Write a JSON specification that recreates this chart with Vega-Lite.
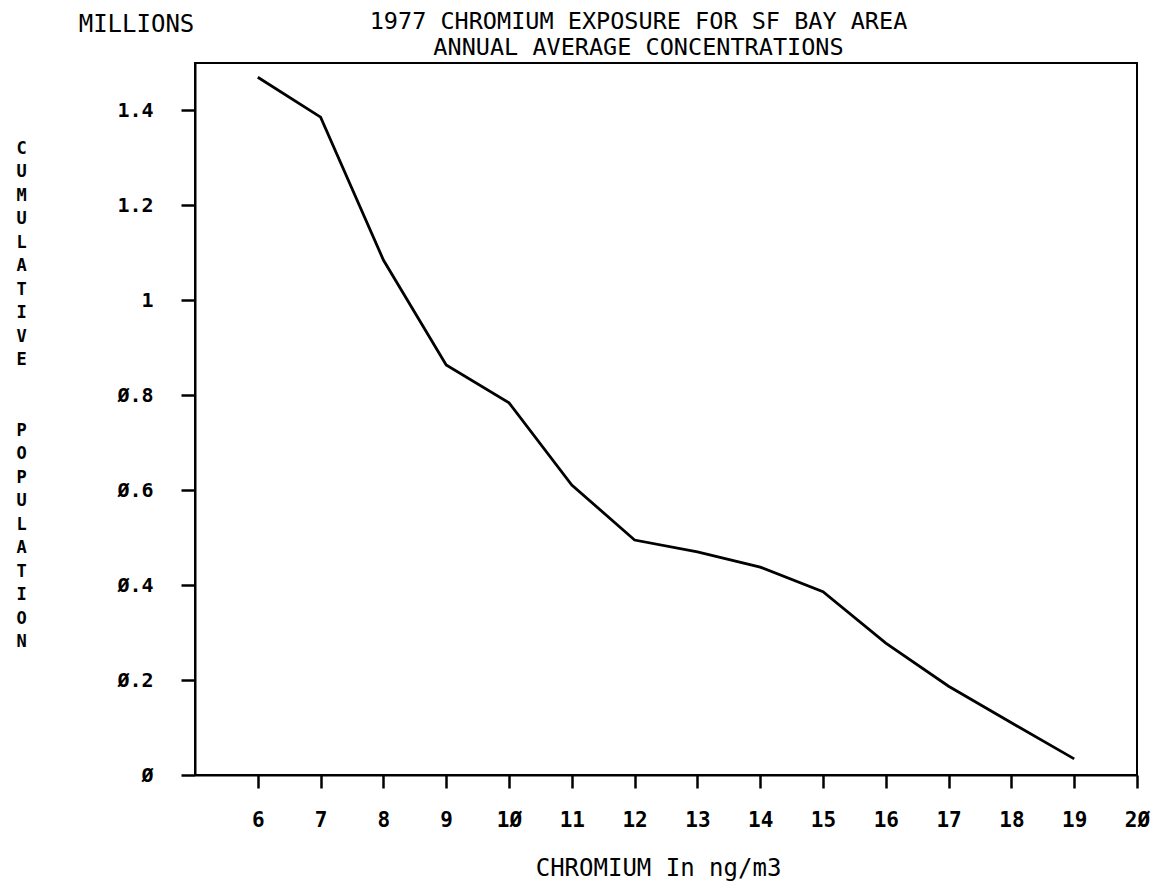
{
  "$schema": "https://vega.github.io/schema/vega-lite/v6.json",
  "width": 942,
  "height": 712,
  "autosize": {"type": "none"},
  "padding": {"left": 195, "top": 63, "right": 19, "bottom": 111},
  "background": "white",
  "config": {
    "view": {"stroke": "black", "strokeWidth": 2},
    "axis": {
      "grid": false,
      "domainColor": "black",
      "domainWidth": 2,
      "tickColor": "black",
      "tickWidth": 2.5,
      "labelColor": "black",
      "titleColor": "black",
      "labelFont": "DejaVu Sans Mono",
      "titleFont": "DejaVu Sans Mono"
    }
  },
  "data": {
    "values": [
      {"chromium": 6, "population": 1.47},
      {"chromium": 7, "population": 1.386},
      {"chromium": 8, "population": 1.085},
      {"chromium": 9, "population": 0.864},
      {"chromium": 10, "population": 0.784},
      {"chromium": 11, "population": 0.611},
      {"chromium": 12, "population": 0.495},
      {"chromium": 13, "population": 0.47},
      {"chromium": 14, "population": 0.438},
      {"chromium": 15, "population": 0.386},
      {"chromium": 16, "population": 0.278},
      {"chromium": 17, "population": 0.187},
      {"chromium": 18, "population": 0.11},
      {"chromium": 19, "population": 0.034}
    ]
  },
  "layer": [
    {
      "mark": {"type": "line", "color": "black", "strokeWidth": 2.8},
      "encoding": {
        "x": {
          "field": "chromium",
          "type": "quantitative",
          "scale": {"domain": [5, 20], "nice": false, "zero": false},
          "axis": {
            "orient": "bottom",
            "values": [6, 7, 8, 9, 10, 11, 12, 13, 14, 15, 16, 17, 18, 19, 20],
            "tickSize": 13,
            "labelPadding": 32,
            "labelBaseline": "middle",
            "labelFontSize": 21,
            "labelFontWeight": "bold",
            "labelExpr": "replace(format(datum.value,'d'),'0','Ø')",
            "labelOverlap": false,
            "labelFlush": false,
            "title": "CHROMIUM In ng/m3",
            "titleFontSize": 24,
            "titleFontWeight": "normal",
            "titleX": 463,
            "titleY": 93,
            "titleAlign": "center",
            "titleBaseline": "middle"
          }
        },
        "y": {
          "field": "population",
          "type": "quantitative",
          "scale": {"domain": [0, 1.5], "nice": false},
          "axis": {
            "orient": "left",
            "values": [0, 0.2, 0.4, 0.6, 0.8, 1, 1.2, 1.4],
            "tickSize": 14,
            "labelPadding": 28,
            "labelFontSize": 20,
            "labelFontWeight": "bold",
            "labelOverlap": false,
            "labelExpr": "replace(format(datum.value,'~g'),'0','Ø')",
            "title": ["C", "U", "M", "U", "L", "A", "T", "I", "V", "E", "\u2800", "\u2800", "P", "O", "P", "U", "L", "A", "T", "I", "O", "N"],
            "titleAngle": 0,
            "titleX": -174,
            "titleY": 85,
            "titleAlign": "center",
            "titleBaseline": "middle",
            "titleLineHeight": 23.5,
            "titleFontSize": 17,
            "titleFontWeight": "bold"
          }
        }
      }
    },
    {
      "mark": {"type": "line", "strokeOpacity": 0},
      "encoding": {
        "x": {
          "field": "chromium",
          "type": "quantitative",
          "scale": {"domain": [5, 20], "nice": false, "zero": false},
          "axis": {
            "orient": "top",
            "domain": false,
            "ticks": false,
            "labels": false,
            "title": ["1977 CHROMIUM EXPOSURE FOR SF BAY AREA", "ANNUAL AVERAGE CONCENTRATIONS"],
            "titleFontSize": 23.5,
            "titleFontWeight": "normal",
            "titleLineHeight": 26,
            "titleX": 443,
            "titleY": -42,
            "titleAlign": "center",
            "titleBaseline": "middle",
            "titleAngle": 0
          }
        },
        "y": {
          "field": "population",
          "type": "quantitative",
          "scale": {"domain": [0, 1.5], "nice": false},
          "axis": {
            "orient": "right",
            "domain": false,
            "ticks": false,
            "labels": false,
            "title": "MILLIONS",
            "titleAngle": 0,
            "titleX": -1001,
            "titleY": -39,
            "titleAlign": "center",
            "titleBaseline": "middle",
            "titleFontSize": 24,
            "titleFontWeight": "normal"
          }
        }
      }
    }
  ],
  "resolve": {
    "scale": {"x": "independent", "y": "independent"},
    "axis": {"x": "independent", "y": "independent"}
  }
}
